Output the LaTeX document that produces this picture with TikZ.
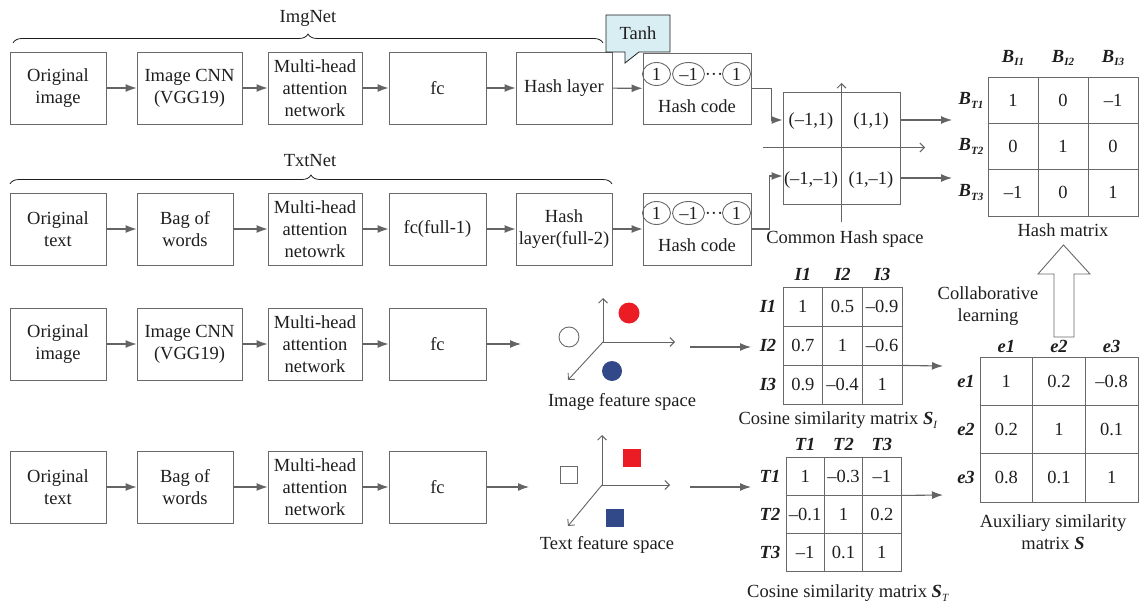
\documentclass[tikz,border=0pt]{standalone}
\usepackage{fontspec}
\setmainfont{Liberation Serif}
\usetikzlibrary{arrows.meta,decorations.pathreplacing,shapes.geometric}

\definecolor{linegray}{RGB}{100,100,100}
\definecolor{boxgray}{RGB}{105,105,105}
\definecolor{txt}{RGB}{30,30,30}
\definecolor{calloutfill}{RGB}{217,238,243}
\definecolor{dotred}{RGB}{236,28,36}
\definecolor{dotblue}{RGB}{49,73,137}

% bold italic labels and lowered small indices
\newcommand{\bi}[1]{\textbf{\textit{#1}}}
\newcommand{\lowidx}[1]{\raisebox{-0.45ex}{\fontsize{11}{11}\selectfont #1}}

\begin{document}
\begin{tikzpicture}[x=1pt,y=-1pt,
  font=\fontsize{18.5}{22}\selectfont, text=txt,
  stepbox/.style={draw=boxgray, line width=0.9pt, minimum height=72pt,
    minimum width=96pt, inner sep=0pt, align=center},
  flow/.style={draw=linegray, line width=1.1pt, -{Latex[length=11pt,width=8pt]}},
  axis/.style={draw=linegray, line width=0.9pt, -{Straight Barb[length=4.5pt,width=9pt]}},
  cell/.style={draw=boxgray, line width=0.9pt, inner sep=0pt},
  bit/.style={draw=boxgray, line width=0.9pt, ellipse, inner sep=0pt,
    minimum width=28pt, minimum height=23pt},
  netbrace/.style={draw=txt, line width=0.8pt, decorate,
    decoration={brace, amplitude=9pt}},
  lbl/.style={inner sep=1pt}]

\useasboundingbox (0,0) rectangle (1141,610);

% ---------------- ImgNet ----------------
\node[stepbox] (r1a) at (58,88) {Original\\image};
\node[stepbox, minimum width=105pt] (r1b) at (189.5,88) {Image CNN\\(VGG19)};
\node[stepbox, minimum width=94pt] (r1c) at (315,88) {Multi-head\\attention\\network};
\node[stepbox, minimum width=97pt] (r1d) at (437.5,88) {fc};
\node[stepbox] (r1e) at (564,88) {Hash layer};
\draw[flow] (r1a) -- (r1b);
\draw[flow] (r1b) -- (r1c);
\draw[flow] (r1c) -- (r1d);
\draw[flow] (r1d) -- (r1e);
\draw[netbrace] (13,43) -- (603,43);
\node (imgnet) at (308,18) {ImgNet};

% ---------------- TxtNet ----------------
\node[stepbox] (r2a) at (58,229) {Original\\text};
\node[stepbox] (r2b) at (185,229) {Bag of\\words};
\node[stepbox, minimum width=94pt] (r2c) at (315,229) {Multi-head\\attention\\netowrk};
\node[stepbox, minimum width=97pt] (r2d) at (437.5,229) {fc(full-1)};
\node[stepbox] (r2e) at (564,229) {Hash\\layer(full-2)};
\draw[flow] (r2a) -- (r2b);
\draw[flow] (r2b) -- (r2c);
\draw[flow] (r2c) -- (r2d);
\draw[flow] (r2d) -- (r2e);
\draw[netbrace] (10,184) -- (612,184);
\node (txtnet) at (310,161) {TxtNet};

% ---------------- hash codes ----------------
\node[stepbox, minimum width=108pt, minimum height=71pt] (hc1) at (697,88.5) {};
\node[bit] (hc1b1) at (656.5,74) {1};
\node[bit, minimum width=32pt] (hc1b2) at (688.5,74) {–1};
\node (hc1dots) at (714,77) {···};
\node[bit] (hc1b3) at (736.5,74) {1};
\node (hc1t) at (697,106) {Hash code};

\node[stepbox, minimum width=108pt] (hc2) at (697,229) {};
\node[bit] (hc2b1) at (656.5,213) {1};
\node[bit, minimum width=32pt] (hc2b2) at (688.5,213) {–1};
\node (hc2dots) at (714,216) {···};
\node[bit] (hc2b3) at (736.5,213) {1};
\node (hc2t) at (697,245) {Hash code};

\draw[flow] (r1e) -- (hc1);
\draw[flow] (r2e) -- (hc2);

% Tanh callout
\draw[draw=txt, line width=0.8pt, fill=calloutfill]
  (606,15) -- (670,15) -- (670,52) -- (639,52) -- (625,63) -- (625,52) -- (606,52) -- cycle;
\node (tanh) at (638,33.5) {Tanh};

% ---------------- common hash space ----------------
\node[draw=boxgray, line width=0.9pt, minimum width=117pt, minimum height=112pt,
  inner sep=0pt] (chs) at (841.5,148) {};
\draw[axis] (763,147.5) -- (925,147.5);
\draw[axis] (841.5,222) -- (841.5,83);
\node (q2) at (811,121) {(–1,1)};
\node (q1) at (871,121) {(1,1)};
\node (q3) at (811,180) {(–1,–1)};
\node (q4) at (871,180) {(1,–1)};
\node (chst) at (845,239) {Common Hash space};

\coordinate (chsin1) at ([yshift=28pt]chs.west);
\coordinate (chsin2) at ([yshift=-28pt]chs.west);
\coordinate (chsout1) at ([yshift=28pt]chs.east);
\coordinate (chsout2) at ([yshift=-30pt]chs.east);
\draw[flow] (hc1.east) -- ++(20,0) |- (chsin1);
\draw[flow] (hc2.east) -- ++(18,0) |- (chsin2);

% ---------------- hash matrix ----------------
\foreach \r/\c/\v in {1/1/1,1/2/0,1/3/–1,2/1/0,2/2/1,2/3/0,3/1/–1,3/2/0,3/3/1}
  \node[cell, minimum width=50pt, minimum height=46.33pt] (hm\r\c)
    at ({988+50*(\c-0.5)},{77+46.33*(\r-0.5)}) {\v};
\foreach \c in {1,2,3}
  \node[lbl] (hmc\c) at ({988+50*(\c-0.5)},58) {\bi{B}\lowidx{\bi{I\c}}};
\foreach \r in {1,2,3}
  \node[lbl] (hmr\r) at (971,{77+46.33*(\r-0.5)}) {\bi{B}\lowidx{\bi{T\r}}};
\node (hmt) at (1063,230) {Hash matrix};

\coordinate (hmin1) at (952,120);
\coordinate (hmin2) at (952,178);
\draw[flow] (chsout1) -- (hmin1);
\draw[flow] (chsout2) -- (hmin2);

% ---------------- image / text feature spaces ----------------
\coordinate (ifo) at (603,342);
\draw[axis] (ifo) -- (603,298);
\draw[axis] (ifo) -- (675,342);
\draw[axis] (ifo) -- (568,380);
\node[circle, draw=boxgray, line width=0.9pt, minimum size=20pt, inner sep=0pt] (ifa) at (569,337) {};
\node[circle, fill=dotred, minimum size=21pt, inner sep=0pt] (ifb) at (629,313) {};
\node[circle, fill=dotblue, minimum size=20pt, inner sep=0pt] (ifc) at (612,371) {};
\node (ift) at (622,402) {Image feature space};

\coordinate (tfo) at (602,485);
\draw[axis] (tfo) -- (602,435);
\draw[axis] (tfo) -- (670,485);
\draw[axis] (tfo) -- (568,526);
\node[draw=boxgray, line width=0.9pt, minimum size=17pt, inner sep=0pt] (tfa) at (569,475) {};
\node[fill=dotred, minimum size=18pt, inner sep=0pt] (tfb) at (632,458) {};
\node[fill=dotblue, minimum size=18pt, inner sep=0pt] (tfc) at (615,518) {};
\node (tft) at (607,545) {Text feature space};

% ---------------- feature rows ----------------
\node[stepbox] (r3a) at (58,344) {Original\\image};
\node[stepbox, minimum width=105pt] (r3b) at (189.5,344) {Image CNN\\(VGG19)};
\node[stepbox, minimum width=94pt] (r3c) at (315,344) {Multi-head\\attention\\network};
\node[stepbox, minimum width=97pt] (r3d) at (437.5,344) {fc};
\draw[flow] (r3a) -- (r3b);
\draw[flow] (r3b) -- (r3c);
\draw[flow] (r3c) -- (r3d);
\coordinate (r3end) at (521,344);
\draw[flow] (r3d) -- (r3end);

\node[stepbox] (r4a) at (58,487) {Original\\text};
\node[stepbox] (r4b) at (185,487) {Bag of\\words};
\node[stepbox, minimum width=94pt] (r4c) at (315,487) {Multi-head\\attention\\network};
\node[stepbox, minimum width=97pt] (r4d) at (437.5,487) {fc};
\draw[flow] (r4a) -- (r4b);
\draw[flow] (r4b) -- (r4c);
\draw[flow] (r4c) -- (r4d);
\coordinate (r4end) at (529,487);
\draw[flow] (r4d) -- (r4end);

% ---------------- cosine similarity matrix S_I ----------------
\foreach \r/\c/\v in {1/1/1,1/2/0.5,1/3/–0.9,2/1/0.7,2/2/1,2/3/–0.6,3/1/0.9,3/2/–0.4,3/3/1}
  \node[cell, minimum width=39.67pt, minimum height=39pt] (si\r\c)
    at ({783+39.67*(\c-0.5)},{287+39*(\r-0.5)}) {\v};
\foreach \c in {1,2,3}
  \node[lbl] (sic\c) at ({783+39.67*(\c-0.5)},274) {\bi{I\c}};
\foreach \r in {1,2,3}
  \node[lbl] (sir\r) at (768,{287+39*(\r-0.5)}) {\bi{I\r}};
\node (sit) at (838,420) {Cosine similarity matrix \bi{S}\lowidx{\textit{I}}};

\coordinate (sIin) at (751,347);
\coordinate (ifout) at (690,347);
\draw[flow] (ifout) -- (sIin);

% ---------------- cosine similarity matrix S_T ----------------
\foreach \r/\c/\v in {1/1/1,1/2/–0.3,1/3/–1,2/1/–0.1,2/2/1,2/3/0.2,3/1/–1,3/2/0.1,3/3/1}
  \node[cell, minimum width=38.33pt, minimum height=38pt] (st\r\c)
    at ({786+38.33*(\c-0.5)},{457+38*(\r-0.5)}) {\v};
\foreach \c in {1,2,3}
  \node[lbl] (stc\c) at ({786+38.33*(\c-0.5)},444) {\bi{T\c}};
\foreach \r in {1,2,3}
  \node[lbl] (str\r) at (770,{457+38*(\r-0.5)}) {\bi{T\r}};
\node (stt) at (848,593) {Cosine similarity matrix \bi{S}\lowidx{\textit{T}}};

\coordinate (sTin) at (751,487);
\coordinate (tfout) at (690,487);
\draw[flow] (tfout) -- (sTin);

% ---------------- auxiliary similarity matrix S ----------------
\foreach \r/\c/\v in {1/1/1,1/2/0.2,1/3/–0.8,2/1/0.2,2/2/1,2/3/0.1,3/1/0.8,3/2/0.1,3/3/1}
  \node[cell, minimum width=52.67pt, minimum height=48.33pt] (ax\r\c)
    at ({980+52.67*(\c-0.5)},{357+48.33*(\r-0.5)}) {\v};
\foreach \c in {1,2,3}
  \node[lbl] (axc\c) at ({980+52.67*(\c-0.5)},346) {\bi{e\c}};
\foreach \r in {1,2,3}
  \node[lbl] (axr\r) at (966,{357+48.33*(\r-0.5)}) {\bi{e\r}};
\node[align=center] (axt) at (1053,532) {Auxiliary similarity\\matrix \bi{S}};

\coordinate (axin1) at (943,366);
\coordinate (axin2) at (943,495);
\draw[flow] (si23.south east) -- (axin1);
\draw[flow] (st13.south east) -- (axin2);

% ---------------- collaborative learning ----------------
\draw[draw=boxgray, line width=0.9pt, fill=white]
  (1054,337) -- (1054,274) -- (1038,274) -- (1063.5,245) -- (1090,274)
  -- (1074,274) -- (1074,337) -- cycle;
\node[align=center] (collab) at (988,306) {Collaborative\\learning};

\end{tikzpicture}
\end{document}
